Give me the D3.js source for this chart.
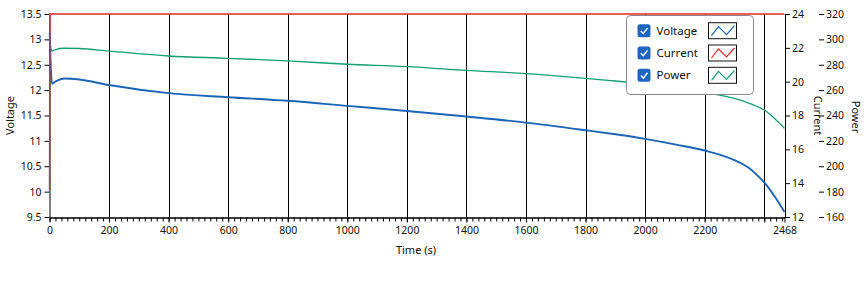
<!DOCTYPE html>
<html>
<head>
<meta charset="utf-8">
<script src="https://cdnjs.cloudflare.com/ajax/libs/d3/7.8.5/d3.min.js"></script>
<style>
  body { margin: 0; background: #fff; }
  svg text { font-family: "Noto Sans", "Open Sans", sans-serif; fill: #111; }
</style>
</head>
<body>
<div id="chart"></div>
<script>
// time axis (s)
const timeValues = [0, 1, 4, 8, 20, 50, 100, 200, 400, 600, 800, 1000, 1200, 1400, 1600, 1800, 1900, 2000, 2100, 2200, 2300, 2350, 2375, 2400, 2440, 2468];
const voltageValues = [13.13, 13.0, 12.5, 12.13, 12.17, 12.23, 12.21, 12.10, 11.94, 11.86, 11.79, 11.69, 11.59, 11.48, 11.36, 11.21, 11.13, 11.04, 10.93, 10.81, 10.62, 10.46, 10.33, 10.18, 9.86, 9.60];
const currentValues = [13.6, 24, 24, 24, 24, 24, 24, 24, 24, 24, 24, 24, 24, 24, 24, 24, 24, 24, 24, 24, 24, 24, 24, 24, 24, 24];
const powerValues = [179, 300, 294, 290.8, 292, 293, 292.8, 290.8, 286.9, 285.1, 283, 280.4, 278.5, 275.6, 273, 269.3, 267.2, 264.5, 261.5, 258, 253.4, 249.6, 247.3, 244.3, 236.5, 229.9];

const xTicks = [0, 200, 400, 600, 800, 1000, 1200, 1400, 1600, 1800, 2000, 2200, 2400, 2468];
const xHiddenLabels = [2400];
const gridTicks = [200, 400, 600, 800, 1000, 1200, 1400, 1600, 1800, 2000, 2200, 2400];
const voltageTicks = [9.5, 10, 10.5, 11, 11.5, 12, 12.5, 13, 13.5];
const currentTicks = [12, 14, 16, 18, 20, 22, 24];
const powerTicks = [160, 180, 200, 220, 240, 260, 280, 300, 320];
const legendNames = ["Voltage", "Current", "Power"];
const seriesColors = ["#1c64b6", "#e8262b", "#12a06e"];

const W = 865, H = 288;
const PLOT = {left: 49.5, right: 784.5, top: 14, bottom: 217};

const svg = d3.select("#chart").append("svg")
    .attr("width", W)
    .attr("height", H);

const x = d3.scaleLinear().domain([0, 2468]).range([PLOT.left, PLOT.right]);
const yV = d3.scaleLinear().domain([9.5, 13.5]).range([PLOT.bottom, PLOT.top]);
const yI = d3.scaleLinear().domain([12, 24]).range([PLOT.bottom, PLOT.top]).clamp(true);
const yP = d3.scaleLinear().domain([160, 320]).range([PLOT.bottom, PLOT.top]);

// vertical grid
svg.append("g")
    .selectAll("line")
    .data(gridTicks)
    .enter().append("line")
    .attr("x1", d => Math.round(x(d)) + 0.5)
    .attr("x2", d => Math.round(x(d)) + 0.5)
    .attr("y1", PLOT.top)
    .attr("y2", PLOT.bottom)
    .attr("stroke", "#000")
    .attr("stroke-width", 1);

// axes
function styleAxis(g) {
    g.selectAll("path, line").attr("stroke", "#000");
    g.selectAll("text").attr("fill", "#111").style("font-size", "10.5px").attr("font-family", null);
}

svg.append("g")
    .attr("transform", "translate(" + PLOT.left + ",0)")
    .call(d3.axisLeft(yV).tickValues(voltageTicks).tickSize(5).tickSizeOuter(0).tickPadding(3).tickFormat(d => String(d)))
    .call(styleAxis);

svg.append("g")
    .attr("transform", "translate(" + (PLOT.right + 0.5) + ",0)")
    .call(d3.axisRight(yI).tickValues(currentTicks).tickSize(5).tickSizeOuter(0).tickPadding(2).tickFormat(d => String(d)))
    .call(styleAxis);

const pAxis = svg.append("g")
    .attr("transform", "translate(819,0)")
    .call(d3.axisRight(yP).tickValues(powerTicks).tickSize(5).tickSizeOuter(0).tickPadding(2).tickFormat(d => String(d)))
    .call(styleAxis);
pAxis.select(".domain").remove();

// minor x ticks every 20 s
svg.append("g")
    .attr("transform", "translate(0," + (PLOT.bottom + 0.5) + ")")
    .call(d3.axisBottom(x).tickValues(d3.range(0, 2468, 20)).tickSize(4).tickSizeOuter(0).tickFormat(""))
    .call(styleAxis);

svg.append("g")
    .attr("transform", "translate(0," + (PLOT.bottom + 0.5) + ")")
    .call(d3.axisBottom(x).tickValues(xTicks).tickSize(5).tickSizeOuter(0).tickPadding(4)
        .tickFormat(d => xHiddenLabels.includes(d) ? "" : String(d)))
    .call(styleAxis);

// series
const points = timeValues.map((t, i) => ({t, v: voltageValues[i], c: currentValues[i], p: powerValues[i]}));

svg.append("clipPath").attr("id", "plot-clip")
    .append("rect")
    .attr("x", PLOT.left - 1).attr("y", PLOT.top - 1)
    .attr("width", PLOT.right - PLOT.left + 2).attr("height", PLOT.bottom - PLOT.top + 2);

const plot = svg.append("g").attr("clip-path", "url(#plot-clip)");

plot.append("path")
    .datum(points)
    .attr("fill", "none")
    .attr("stroke", seriesColors[2])
    .attr("stroke-width", 1.3)
    .attr("d", d3.line().x(d => x(d.t)).y(d => yP(d.p)).curve(d3.curveMonotoneX));

plot.append("path")
    .datum(points)
    .attr("fill", "none")
    .attr("stroke", seriesColors[0])
    .attr("stroke-width", 1.9)
    .attr("d", d3.line().x(d => x(d.t)).y(d => yV(d.v)).curve(d3.curveMonotoneX));

plot.append("path")
    .datum(points)
    .attr("fill", "none")
    .attr("stroke", seriesColors[1])
    .attr("stroke-width", 1.5)
    .attr("d", d3.line().x(d => x(d.t)).y(d => yI(d.c)));

// axis titles
svg.append("text")
    .attr("transform", "translate(13.5,115.5) rotate(-90)")
    .attr("text-anchor", "middle")
    .style("font-size", "11px")
    .text("Voltage");

svg.append("text")
    .attr("transform", "translate(813.5,115.5) rotate(90)")
    .attr("text-anchor", "middle")
    .style("font-size", "11px")
    .text("Current");

svg.append("text")
    .attr("transform", "translate(851.5,117) rotate(90)")
    .attr("text-anchor", "middle")
    .style("font-size", "11px")
    .text("Power");

svg.append("text")
    .attr("x", 416)
    .attr("y", 254)
    .attr("text-anchor", "middle")
    .style("font-size", "11px")
    .text("Time (s)");

// legend
const legend = svg.append("g").attr("transform", "translate(626.5,15.5)");
legend.append("rect")
    .attr("width", 127)
    .attr("height", 79)
    .attr("rx", 4)
    .attr("fill", "#fff")
    .attr("stroke", "#8a8a8a");

const rows = legend.selectAll("g.row")
    .data(legendNames)
    .enter().append("g")
    .attr("class", "row")
    .attr("transform", (d, i) => "translate(0," + (15.2 + i * 22.3) + ")");

rows.append("rect")
    .attr("x", 11).attr("y", -6.5)
    .attr("width", 13).attr("height", 13)
    .attr("rx", 2.5)
    .attr("fill", "#1f64c0");

rows.append("path")
    .attr("d", "M14.3,0.2 L16.8,2.8 L21,-2.6")
    .attr("fill", "none")
    .attr("stroke", "#fff")
    .attr("stroke-width", 1.4);

rows.append("text")
    .attr("x", 30)
    .attr("y", 4)
    .style("font-size", "11.5px")
    .text(d => d);

rows.append("rect")
    .attr("x", 82).attr("y", -8)
    .attr("width", 28).attr("height", 16)
    .attr("fill", "#fff")
    .attr("stroke", "#111");

rows.append("path")
    .attr("d", "M85,5 L92,-4 L100,4 L108,-5")
    .attr("fill", "none")
    .attr("stroke", (d, i) => seriesColors[i])
    .attr("stroke-width", 1.2);
</script>
</body>
</html>
